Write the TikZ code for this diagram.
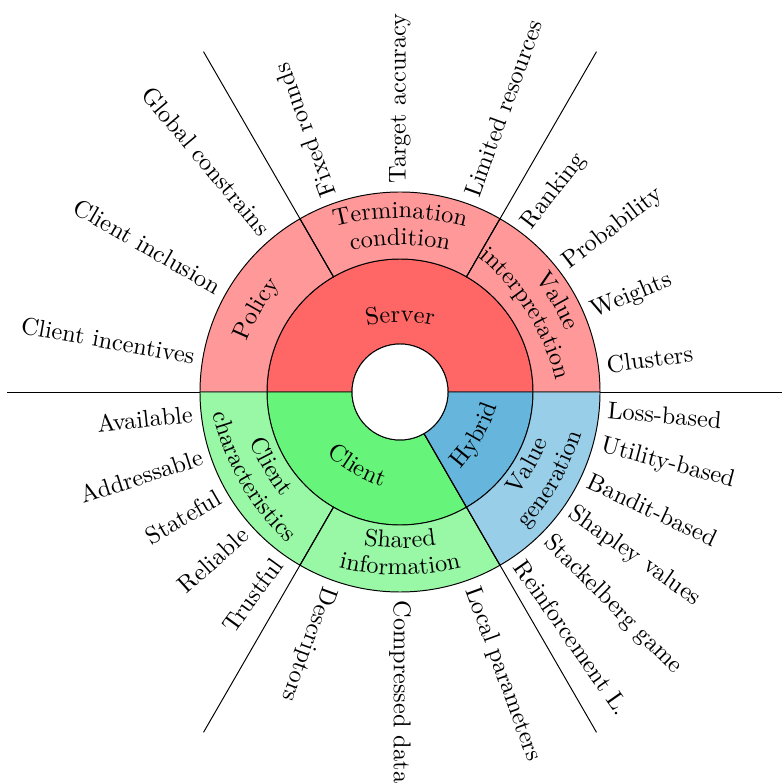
\documentclass[tikz,border=0pt]{standalone}
\usepackage{tikz}
\usetikzlibrary{decorations.text}
\definecolor{srvRed}{HTML}{FF6666}
\definecolor{srvLight}{HTML}{FF9999}
\definecolor{cliGreen}{HTML}{66F57A}
\definecolor{cliLight}{HTML}{99F8A6}
\definecolor{hybBlue}{HTML}{66B5DC}
\definecolor{hybLight}{HTML}{99CEE8}
\tikzset{ring/.style={draw, thin}}
\tikzset{lout/.style={anchor=west}}
\tikzset{lin/.style={anchor=east}}
% annular sector: colour, inner r, outer r, from, to
\newcommand{\ringpart}[5]{%
  \draw[ring, fill=#1] (#4:#2) arc[start angle=#4, end angle=#5, radius=#2]
    -- (#5:#3) arc[start angle=#5, end angle=#4, radius=#3] -- cycle;}
% curved labels: angle, baseline radius, text
\newcommand{\uptext}[3]{%
  \path[shift={(#1:-0.8)}, decorate, decoration={text along path,
    text={#3}, text align=center}]
    (#1+40:#2+0.8) arc[start angle=#1+40, end angle=#1-40, radius=#2+0.8];}
\newcommand{\downtext}[3]{%
  \path[shift={(#1:-0.8)}, decorate, decoration={text along path,
    text={#3}, text align=center}]
    (#1-40:#2+0.8) arc[start angle=#1-40, end angle=#1+40, radius=#2+0.8];}

\begin{document}
\begin{tikzpicture}[scale=1.446]
        \clip (-4.00,-3.92) rectangle (3.82,3.92);
        %% inner ring
        \ringpart{srvRed}{0.48}{1.33}{0}{180}
        \ringpart{cliGreen}{0.48}{1.33}{180}{300}
        \ringpart{hybBlue}{0.48}{1.33}{300}{360}
        %% outer ring
        \ringpart{srvLight}{1.33}{2}{120}{180}
        \ringpart{srvLight}{1.33}{2}{60}{120}
        \ringpart{srvLight}{1.33}{2}{0}{60}
        \ringpart{cliLight}{1.33}{2}{180}{240}
        \ringpart{cliLight}{1.33}{2}{240}{300}
        \ringpart{hybLight}{1.33}{2}{300}{360}
        \draw[fill=white] (0,0) circle (0.48);
        %% spokes
        \draw (180:2) -- (180:3.93);
        \draw (0:2) -- (0:3.93);
        \draw (120:1.33) -- (120:3.93);
        \draw (60:1.33) -- (60:3.93);
        \draw (240:1.33) -- (240:3.93);
        \draw (300:0.48) -- (300:3.93);
        %% ring labels
        \uptext{90}{0.70}{Server}
        \downtext{240}{0.94}{Client}
        \downtext{330}{0.95}{Hybrid}
        \uptext{150}{1.60}{Policy}
        \uptext{90}{1.74}{Termination}
        \uptext{90}{1.47}{condition}
        \uptext{30}{1.76}{Value}
        \uptext{32}{1.50}{interpretation}
        \downtext{210}{1.57}{Client}
        \downtext{210}{1.84}{characteristics}
        \downtext{270}{1.56}{Shared}
        \downtext{270}{1.83}{information}
        \downtext{330}{1.55}{Value}
        \downtext{330}{1.84}{generation}
        %% Policy
        \node[lin, rotate=-10] (p1) at (170:2) {Client incentives};
        \node[lin, rotate=-30] (p2) at (150:2) {Client inclusion};
        \node[lin, rotate=-50] (p3) at (130:2) {Global constrains};
        %% Termination condition
        \node[lout, rotate=110] (t1) at (110:2) {Fixed rounds};
        \node[lout, rotate=90] (t2) at (90:2) {Target accuracy};
        \node[lout, rotate=70] (t3) at (70:2) {Limited resources};
        %% Value interpretation
        \node[lout, rotate=52.5] (v1) at (52.5:2) {Ranking};
        \node[lout, rotate=37.5] (v2) at (37.5:2) {Probability};
        \node[lout, rotate=22.5] (v3) at (22.5:2) {Weights};
        \node[lout, rotate=7.5] (v4) at (7.5:2) {Clusters};
        %% Client characteristics
        \node[lin, rotate=6] (c1) at (186:2) {Available};
        \node[lin, rotate=18] (c2) at (198:2) {Addressable};
        \node[lin, rotate=30] (c3) at (210:2) {Stateful};
        \node[lin, rotate=42] (c4) at (222:2) {Reliable};
        \node[lin, rotate=54] (c5) at (234:2) {Trustful};
        %% Shared information
        \node[lout, rotate=250] (s1) at (250:2) {Descriptors};
        \node[lout, rotate=270] (s2) at (270:2) {Compressed data};
        \node[lout, rotate=290] (s3) at (290:2) {Local parameters};
        %% Value generation
        \node[lout, rotate=355] (g1) at (355:2) {Loss-based};
        \node[lout, rotate=345] (g2) at (345:2) {Utility-based};
        \node[lout, rotate=335] (g3) at (335:2) {Bandit-based};
        \node[lout, rotate=325] (g4) at (325:2) {Shapley values};
        \node[lout, rotate=315] (g5) at (315:2) {Stackelberg game};
        \node[lout, rotate=305] (g6) at (305:2) {Reinforcement L.};
\end{tikzpicture}
\end{document}
